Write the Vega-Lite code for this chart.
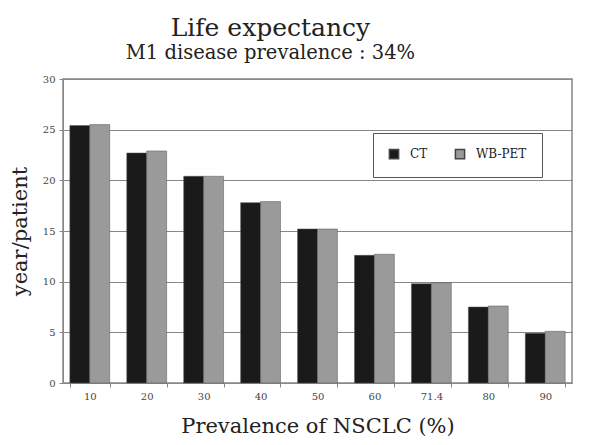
{
  "$schema": "https://vega.github.io/schema/vega-lite/v6.json",
  "width": 509,
  "height": 304,
  "autosize": {"type": "none"},
  "padding": {"left": 63, "top": 79, "right": 25, "bottom": 62},
  "background": "white",
  "title": {
    "text": "Life expectancy",
    "subtitle": "M1 disease prevalence : 34%",
    "anchor": "middle",
    "dx": -47,
    "offset": 12,
    "font": "DejaVu Serif",
    "fontSize": 25,
    "fontWeight": "normal",
    "color": "#222",
    "subtitleFont": "DejaVu Serif",
    "subtitleFontSize": 19.5,
    "subtitleColor": "#222",
    "subtitlePadding": 3
  },
  "data": {
    "values": [
      {"p": "10", "s": "CT", "v": 25.4},
      {"p": "10", "s": "WB-PET", "v": 25.5},
      {"p": "20", "s": "CT", "v": 22.7},
      {"p": "20", "s": "WB-PET", "v": 22.9},
      {"p": "30", "s": "CT", "v": 20.4},
      {"p": "30", "s": "WB-PET", "v": 20.4},
      {"p": "40", "s": "CT", "v": 17.8},
      {"p": "40", "s": "WB-PET", "v": 17.9},
      {"p": "50", "s": "CT", "v": 15.2},
      {"p": "50", "s": "WB-PET", "v": 15.2},
      {"p": "60", "s": "CT", "v": 12.6},
      {"p": "60", "s": "WB-PET", "v": 12.7},
      {"p": "71.4", "s": "CT", "v": 9.8},
      {"p": "71.4", "s": "WB-PET", "v": 9.9},
      {"p": "80", "s": "CT", "v": 7.5},
      {"p": "80", "s": "WB-PET", "v": 7.6},
      {"p": "90", "s": "CT", "v": 4.9},
      {"p": "90", "s": "WB-PET", "v": 5.1}
    ]
  },
  "mark": {"type": "bar", "stroke": "#555", "strokeWidth": 0.5},
  "encoding": {
    "x": {
      "field": "p",
      "type": "nominal",
      "sort": null,
      "scale": {"paddingInner": 0.3, "paddingOuter": 0.12},
      "axis": {
        "title": "Prevalence of NSCLC (%)",
        "titleFont": "DejaVu Serif",
        "titleFontSize": 21,
        "titleFontWeight": "normal",
        "titleColor": "#222",
        "titlePadding": 14,
        "labelAngle": 0,
        "labelFont": "DejaVu Serif",
        "labelFontSize": 10,
        "labelColor": "#444",
        "labelPadding": 4,
        "domainColor": "#888",
        "tickColor": "#888",
        "tickSize": 4,
        "tickBand": "extent",
        "grid": false
      }
    },
    "xOffset": {"field": "s", "type": "nominal", "scale": {"paddingInner": 0}},
    "y": {
      "field": "v",
      "type": "quantitative",
      "scale": {"domain": [0, 30]},
      "axis": {
        "title": "year/patient",
        "values": [0, 5, 10, 15, 20, 25, 30],
        "titleFont": "DejaVu Serif",
        "titleFontSize": 21,
        "titleFontWeight": "normal",
        "titleColor": "#222",
        "titlePadding": 12,
        "labelFont": "DejaVu Serif",
        "labelFontSize": 10,
        "labelColor": "#444",
        "labelPadding": 4,
        "domainColor": "#888",
        "tickColor": "#888",
        "tickSize": 4,
        "gridColor": "#888",
        "gridWidth": 1.2
      }
    },
    "color": {
      "field": "s",
      "type": "nominal",
      "scale": {"domain": ["CT", "WB-PET"], "range": ["#1a1a1a", "#9a9a9a"]},
      "legend": {
        "title": null,
        "orient": "none",
        "legendX": 310,
        "legendY": 54,
        "direction": "horizontal",
        "symbolType": "square",
        "symbolSize": 85,
        "symbolStrokeColor": "#444",
        "labelFont": "DejaVu Serif",
        "labelFontSize": 12,
        "labelOffset": 10,
        "labelColor": "#222",
        "columnPadding": 24,
        "padding": 15,
        "strokeColor": "#555",
        "fillColor": "white"
      }
    }
  },
  "config": {
    "view": {"stroke": "#888", "strokeWidth": 1.5}
  }
}
